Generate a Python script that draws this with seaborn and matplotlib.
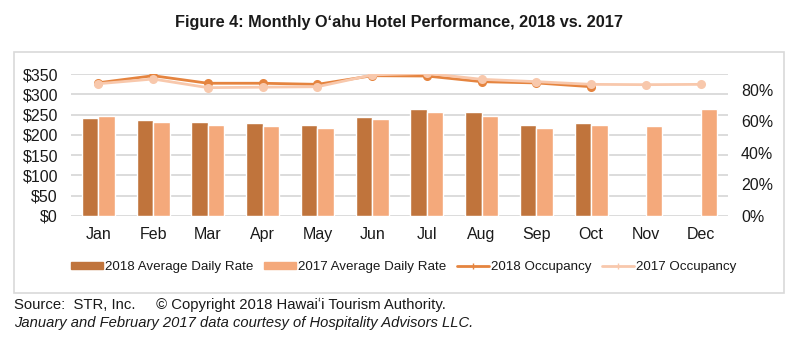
import matplotlib
matplotlib.use("Agg")
import matplotlib.pyplot as plt
import matplotlib.patches as mpatches
import matplotlib.lines as mlines
import seaborn as sns
import pandas as pd
import numpy as np

months = ["Jan", "Feb", "Mar", "Apr", "May", "Jun", "Jul", "Aug", "Sep", "Oct", "Nov", "Dec"]
adr_2018 = [241, 237, 233, 229, 225, 244, 263, 256, 225, 230, np.nan, np.nan]
adr_2017 = [247, 233, 225, 222, 217, 240, 256, 248, 218, 225, 222, 263]
occ_2018 = [0.846, 0.891, 0.843, 0.843, 0.836, 0.891, 0.889, 0.853, 0.845, 0.821, np.nan, np.nan]
occ_2017 = [0.840, 0.870, 0.815, 0.818, 0.821, 0.896, 0.906, 0.868, 0.853, 0.836, 0.834, 0.836]
left_ticks = [0, 50, 100, 150, 200, 250, 300, 350]
right_ticks = [0, 0.2, 0.4, 0.6, 0.8]

c_adr18 = "#C0743C"
c_adr17 = "#F4A97B"
c_occ18 = "#E5843F"
c_occ17 = "#F8C8AC"

sns.set_theme(style="white")
plt.rcParams["font.family"] = ["Liberation Sans", "DejaVu Sans"]
narrow = ["Liberation Sans Narrow", "Liberation Sans", "DejaVu Sans"]

adr_df = pd.DataFrame({
    "month": months * 2,
    "year": ["2018"] * 12 + ["2017"] * 12,
    "rate": adr_2018 + adr_2017,
})
occ_df = pd.DataFrame({
    "month": months * 2,
    "year": ["2018"] * 12 + ["2017"] * 12,
    "occ": occ_2018 + occ_2017,
})

fig = plt.figure(figsize=(8, 3.39), dpi=100)
# outer frame
frame = mpatches.Rectangle((14 / 800, 1 - 293 / 339), 770 / 800, 241 / 339,
                           transform=fig.transFigure, fill=False,
                           edgecolor="#D9D9D9", linewidth=1.2)
fig.patches.append(frame)

ax = fig.add_axes([71 / 800, 1 - 215.7 / 339, 657 / 800, 141.4 / 339])
sns.barplot(data=adr_df, x="month", y="rate", hue="year", hue_order=["2018", "2017"],
            order=months, palette=[c_adr18, c_adr17], width=0.6, saturation=1,
            ax=ax, legend=False, errorbar=None)
ax.set_ylim(0, 350)
ax.set_yticks(left_ticks)
ax.set_yticklabels([f"${v}" for v in left_ticks])
ax.yaxis.grid(True, color="#D9D9D9", linewidth=1.3)
ax.set_axisbelow(True)
for s in ax.spines.values():
    s.set_visible(False)
ax.set_xlabel("")
ax.set_ylabel("")
ax.tick_params(axis="both", length=0, labelsize=11.5, colors="#1a1a1a")
ax.tick_params(axis="x", pad=8)
ax.tick_params(axis="y", pad=9.4)
ax.set_xlim(-0.5, 11.5)

ax2 = ax.twinx()
sns.pointplot(data=occ_df, x="month", y="occ", hue="year", hue_order=["2018", "2017"],
              order=months, palette=[c_occ18, c_occ17], markers="o", linestyles="-",
              dodge=False, errorbar=None, ax=ax2, legend=False,
              markersize=5, linewidth=2)
ax2.set_ylim(0, 0.9)
ax2.set_yticks(right_ticks)
ax2.set_yticklabels([f"{int(round(v * 100))}%" for v in right_ticks])
ax2.grid(False)
for s in ax2.spines.values():
    s.set_visible(False)
ax2.set_xlabel("")
ax2.set_ylabel("")
ax2.tick_params(axis="y", length=0, labelsize=11.5, colors="#1a1a1a", pad=9.4)
ax2.set_xlim(-0.5, 11.5)

fig.text(0.499, 1 - 23 / 339, "Figure 4: Monthly O\u02bbahu Hotel Performance, 2018 vs. 2017",
         ha="center", va="center", fontsize=11.7, fontweight="bold", family=narrow,
         color="#1a1a1a")

handles = [
    mpatches.Patch(color=c_adr18, label="2018 Average Daily Rate"),
    mpatches.Patch(color=c_adr17, label="2017 Average Daily Rate"),
    mlines.Line2D([], [], color=c_occ18, linewidth=2, marker="|", markersize=4,
                  label="2018 Occupancy"),
    mlines.Line2D([], [], color=c_occ17, linewidth=2, marker="|", markersize=4,
                  label="2017 Occupancy"),
]
leg = fig.legend(handles=handles, loc="center", bbox_to_anchor=(404 / 800, 1 - 267 / 339),
                 ncol=4, frameon=False, handlelength=2.4, handleheight=0.45,
                 handletextpad=0.15, columnspacing=0.8,
                 prop={"family": narrow, "size": 9.6})
for t in leg.get_texts():
    t.set_color("#1a1a1a")

fig.text(14 / 800, 1 - 305 / 339,
         "Source:  STR, Inc.     \u00a9 Copyright 2018 Hawai\u02bbi Tourism Authority.",
         ha="left", va="center", fontsize=10.7, family=narrow, color="#1a1a1a")
fig.text(14 / 800, 1 - 323 / 339,
         "January and February 2017 data courtesy of Hospitality Advisors LLC.",
         ha="left", va="center", fontsize=10.6, family=narrow, style="italic",
         color="#1a1a1a")

fig.savefig("out.png", dpi=100)
